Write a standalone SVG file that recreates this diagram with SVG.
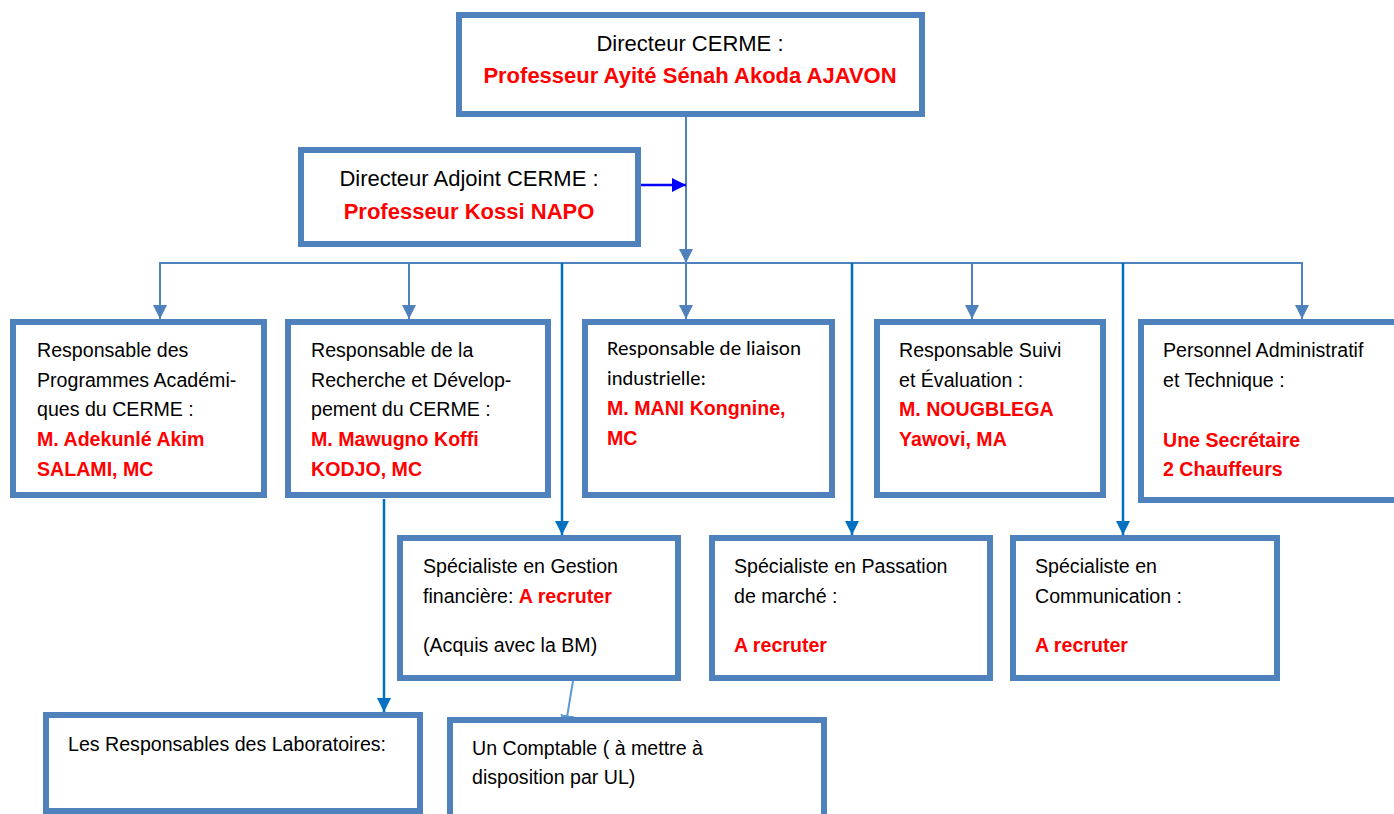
<svg xmlns="http://www.w3.org/2000/svg" width="1394" height="814" viewBox="0 0 1394 814">
<style>
.box{fill:#FFFFFF;stroke:#4F81BD;stroke-width:6}
.t{font-family:"Liberation Sans",Arial,sans-serif;font-size:19.6px;fill:#000000}
.tl{font-family:"Liberation Sans",Arial,sans-serif;font-size:22px;fill:#000000}
.r{font-weight:bold;fill:#FF0000}
.cal{font-family:Carlito,Lato,"Open Sans",sans-serif;font-size:20px;fill:#000000}
.c1{fill:none;stroke:#4F81BD;stroke-width:2}
.c2{fill:none;stroke:#0070C0;stroke-width:2.5}
.c3{fill:none;stroke:#0000FF;stroke-width:2.5}
.c4{fill:none;stroke:#5B9BD5;stroke-width:2}
</style>
<defs>
<marker id="a1" markerUnits="userSpaceOnUse" markerWidth="16" markerHeight="16" refX="14" refY="7" orient="auto"><path d="M0,0 L14,7 L0,14 Z" fill="#4F81BD"/></marker>
<marker id="a2" markerUnits="userSpaceOnUse" markerWidth="16" markerHeight="16" refX="14" refY="7" orient="auto"><path d="M0,0 L14,7 L0,14 Z" fill="#0070C0"/></marker>
<marker id="a3" markerUnits="userSpaceOnUse" markerWidth="16" markerHeight="16" refX="14" refY="7" orient="auto"><path d="M0,0 L14,7 L0,14 Z" fill="#0000FF"/></marker>
<marker id="a4" markerUnits="userSpaceOnUse" markerWidth="16" markerHeight="16" refX="14" refY="7" orient="auto"><path d="M0,0 L14,7 L0,14 Z" fill="#5B9BD5"/></marker>
</defs>
<rect width="1394" height="814" fill="#FFFFFF"/>

<g id="connectors">
<line class="c1" x1="686" y1="117" x2="686" y2="263" marker-end="url(#a1)"/>
<line class="c1" x1="159" y1="263" x2="1303" y2="263"/>
<line class="c1" x1="160" y1="263" x2="160" y2="319" marker-end="url(#a1)"/>
<line class="c1" x1="409" y1="263" x2="409" y2="319" marker-end="url(#a1)"/>
<line class="c1" x1="686" y1="263" x2="686" y2="319" marker-end="url(#a1)"/>
<line class="c1" x1="972" y1="263" x2="972" y2="319" marker-end="url(#a1)"/>
<line class="c1" x1="1302" y1="263" x2="1302" y2="319" marker-end="url(#a1)"/>
<line class="c2" x1="562" y1="263" x2="562" y2="535" marker-end="url(#a2)"/>
<line class="c2" x1="852" y1="263" x2="852" y2="535" marker-end="url(#a2)"/>
<line class="c2" x1="1123" y1="263" x2="1123" y2="535" marker-end="url(#a2)"/>
<line class="c2" x1="384" y1="499" x2="384" y2="712" marker-end="url(#a2)"/>
<line class="c3" x1="641" y1="185" x2="686" y2="185" marker-end="url(#a3)"/>
<line class="c4" x1="573" y1="681" x2="565" y2="729" marker-end="url(#a4)"/>
</g>

<g id="directeur">
<rect class="box" x="459" y="15" width="463" height="99"/>
<text class="tl" x="690" y="51" text-anchor="middle">Directeur CERME :</text>
<text class="tl r" x="690" y="83" text-anchor="middle">Professeur Ayité Sénah Akoda AJAVON</text>
</g>

<g id="adjoint">
<rect class="box" x="301" y="150" width="337" height="94"/>
<text class="tl" x="469" y="186" text-anchor="middle">Directeur Adjoint CERME :</text>
<text class="tl r" x="469" y="219" text-anchor="middle">Professeur Kossi NAPO</text>
</g>

<g id="academique">
<rect class="box" x="13" y="322" width="251" height="173"/>
<text class="t" x="37" y="357">Responsable des</text>
<text class="t" x="37" y="387">Programmes Académi-</text>
<text class="t" x="37" y="416">ques du CERME :</text>
<text class="t r" x="37" y="446">M. Adekunlé Akim</text>
<text class="t r" x="37" y="476">SALAMI, MC</text>
</g>

<g id="recherche">
<rect class="box" x="288" y="322" width="260" height="173"/>
<text class="t" x="311" y="357">Responsable de la</text>
<text class="t" x="311" y="387">Recherche et Dévelop-</text>
<text class="t" x="311" y="416">pement du CERME :</text>
<text class="t r" x="311" y="446">M. Mawugno Koffi</text>
<text class="t r" x="311" y="476">KODJO, MC</text>
</g>

<g id="liaison">
<rect class="box" x="585" y="322" width="247" height="173"/>
<text class="cal" x="607" y="355" textLength="194" lengthAdjust="spacingAndGlyphs">Responsable de liaison</text>
<text class="cal" x="607" y="385" textLength="99" lengthAdjust="spacingAndGlyphs">industrielle:</text>
<text class="t r" x="607" y="415">M. MANI Kongnine,</text>
<text class="t r" x="607" y="445">MC</text>
</g>

<g id="suivi">
<rect class="box" x="877" y="322" width="226" height="173"/>
<text class="t" x="899" y="357">Responsable Suivi</text>
<text class="t" x="899" y="387">et Évaluation :</text>
<text class="t r" x="899" y="416">M. NOUGBLEGA</text>
<text class="t r" x="899" y="446">Yawovi, MA</text>
</g>

<g id="personnel">
<rect class="box" x="1141" y="322" width="270" height="178"/>
<text class="t" x="1163" y="357">Personnel Administratif</text>
<text class="t" x="1163" y="387">et Technique :</text>
<text class="t r" x="1163" y="447">Une Secrétaire</text>
<text class="t r" x="1163" y="476">2 Chauffeurs</text>
</g>

<g id="gestion">
<rect class="box" x="400" y="538" width="278" height="140"/>
<text class="t" x="423" y="573">Spécialiste en Gestion</text>
<text class="t" x="423" y="603">financière: <tspan class="r">A recruter</tspan></text>
<text class="t" x="423" y="652">(Acquis avec la BM)</text>
</g>

<g id="passation">
<rect class="box" x="712" y="538" width="278" height="140"/>
<text class="t" x="734" y="573">Spécialiste en Passation</text>
<text class="t" x="734" y="603">de marché :</text>
<text class="t r" x="734" y="652">A recruter</text>
</g>

<g id="communication">
<rect class="box" x="1013" y="538" width="264" height="140"/>
<text class="t" x="1035" y="573">Spécialiste en</text>
<text class="t" x="1035" y="603">Communication :</text>
<text class="t r" x="1035" y="652">A recruter</text>
</g>

<g id="laboratoires">
<rect class="box" x="46" y="715" width="374" height="96"/>
<text class="t" x="68" y="751">Les Responsables des Laboratoires:</text>
</g>

<g id="comptable">
<rect class="box" x="450" y="720" width="374" height="120"/>
<text class="t" x="472" y="755">Un Comptable ( à mettre à</text>
<text class="t" x="472" y="784">disposition par UL)</text>
</g>
</svg>
